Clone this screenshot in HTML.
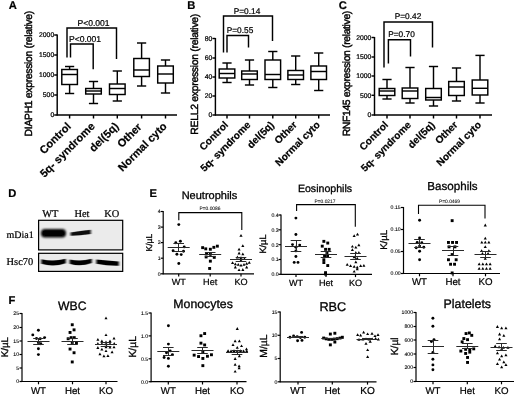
<!DOCTYPE html>
<html><head><meta charset="utf-8"><title>Figure</title>
<style>
html,body{margin:0;padding:0;background:#fff;}
svg{display:block;}
text{fill:#000;text-rendering:geometricPrecision;stroke:#000;stroke-width:0.22px;}
</style></head><body>
<svg width="520" height="396" viewBox="0 0 520 396">
<defs>
<filter id="b1" x="-20%" y="-100%" width="140%" height="300%"><feGaussianBlur stdDeviation="1.1 0.9"/></filter>
<filter id="b2" x="-20%" y="-100%" width="140%" height="300%"><feGaussianBlur stdDeviation="0.9 0.7"/></filter>
<filter id="soft" x="0" y="0" width="100%" height="100%"><feGaussianBlur stdDeviation="0.5"/></filter>
</defs>
<rect width="520" height="396" fill="#fff"/>
<g filter="url(#soft)">

<text x="8.7" y="9.4" font-size="11.2" text-anchor="start" font-weight="bold" font-family='"Liberation Sans", sans-serif'>A</text>
<line x1="57.2" y1="34.5" x2="57.2" y2="115.5" stroke="#000" stroke-width="1.45"/>
<line x1="56.7" y1="115" x2="177" y2="115" stroke="#000" stroke-width="1.45"/>
<line x1="54.2" y1="35" x2="57.2" y2="35" stroke="#000" stroke-width="1.45"/>
<text x="54.2" y="37.35" font-size="6.8" text-anchor="end" font-weight="normal" font-family='"Liberation Sans", sans-serif'>2000</text>
<line x1="54.2" y1="55" x2="57.2" y2="55" stroke="#000" stroke-width="1.45"/>
<text x="54.2" y="57.35" font-size="6.8" text-anchor="end" font-weight="normal" font-family='"Liberation Sans", sans-serif'>1500</text>
<line x1="54.2" y1="75" x2="57.2" y2="75" stroke="#000" stroke-width="1.45"/>
<text x="54.2" y="77.35" font-size="6.8" text-anchor="end" font-weight="normal" font-family='"Liberation Sans", sans-serif'>1000</text>
<line x1="54.2" y1="95" x2="57.2" y2="95" stroke="#000" stroke-width="1.45"/>
<text x="54.2" y="97.35" font-size="6.8" text-anchor="end" font-weight="normal" font-family='"Liberation Sans", sans-serif'>500</text>
<line x1="54.2" y1="115" x2="57.2" y2="115" stroke="#000" stroke-width="1.45"/>
<text x="54.2" y="117.35" font-size="6.8" text-anchor="end" font-weight="normal" font-family='"Liberation Sans", sans-serif'>0</text>
<text x="32.3" y="73.6" font-size="10.4" text-anchor="middle" font-weight="normal" font-family='"Liberation Sans", sans-serif' transform="rotate(-90 32.3 73.6)" textLength="125.6" lengthAdjust="spacing" style="stroke-width:0.45px">DIAPH1 expression (relative)</text>
<line x1="69.6" y1="66.5" x2="69.6" y2="69.5" stroke="#000" stroke-width="1.45"/>
<line x1="69.6" y1="84.5" x2="69.6" y2="93.5" stroke="#000" stroke-width="1.45"/>
<line x1="65.0" y1="66.5" x2="74.19999999999999" y2="66.5" stroke="#000" stroke-width="1.45"/>
<line x1="65.0" y1="93.5" x2="74.19999999999999" y2="93.5" stroke="#000" stroke-width="1.45"/>
<rect x="61.8" y="69.5" width="15.6" height="15.0" fill="#fff" stroke="#000" stroke-width="1.45"/>
<line x1="61.8" y1="74.5" x2="77.39999999999999" y2="74.5" stroke="#000" stroke-width="1.45"/>
<line x1="93.5" y1="81.5" x2="93.5" y2="88.5" stroke="#000" stroke-width="1.45"/>
<line x1="93.5" y1="94" x2="93.5" y2="103.5" stroke="#000" stroke-width="1.45"/>
<line x1="88.9" y1="81.5" x2="98.1" y2="81.5" stroke="#000" stroke-width="1.45"/>
<line x1="88.9" y1="103.5" x2="98.1" y2="103.5" stroke="#000" stroke-width="1.45"/>
<rect x="85.7" y="88.5" width="15.6" height="5.5" fill="#fff" stroke="#000" stroke-width="1.45"/>
<line x1="85.7" y1="91" x2="101.3" y2="91" stroke="#000" stroke-width="1.45"/>
<line x1="117.3" y1="71" x2="117.3" y2="84" stroke="#000" stroke-width="1.45"/>
<line x1="117.3" y1="94.5" x2="117.3" y2="101" stroke="#000" stroke-width="1.45"/>
<line x1="112.7" y1="71" x2="121.89999999999999" y2="71" stroke="#000" stroke-width="1.45"/>
<line x1="112.7" y1="101" x2="121.89999999999999" y2="101" stroke="#000" stroke-width="1.45"/>
<rect x="109.5" y="84" width="15.6" height="10.5" fill="#fff" stroke="#000" stroke-width="1.45"/>
<line x1="109.5" y1="88.5" x2="125.1" y2="88.5" stroke="#000" stroke-width="1.45"/>
<line x1="141.6" y1="43" x2="141.6" y2="58.5" stroke="#000" stroke-width="1.45"/>
<line x1="141.6" y1="76.5" x2="141.6" y2="86" stroke="#000" stroke-width="1.45"/>
<line x1="137.0" y1="43" x2="146.2" y2="43" stroke="#000" stroke-width="1.45"/>
<line x1="137.0" y1="86" x2="146.2" y2="86" stroke="#000" stroke-width="1.45"/>
<rect x="133.79999999999998" y="58.5" width="15.6" height="18.0" fill="#fff" stroke="#000" stroke-width="1.45"/>
<line x1="133.79999999999998" y1="70" x2="149.4" y2="70" stroke="#000" stroke-width="1.45"/>
<line x1="165.5" y1="60" x2="165.5" y2="66" stroke="#000" stroke-width="1.45"/>
<line x1="165.5" y1="83" x2="165.5" y2="93" stroke="#000" stroke-width="1.45"/>
<line x1="160.9" y1="60" x2="170.1" y2="60" stroke="#000" stroke-width="1.45"/>
<line x1="160.9" y1="93" x2="170.1" y2="93" stroke="#000" stroke-width="1.45"/>
<rect x="157.7" y="66" width="15.6" height="17" fill="#fff" stroke="#000" stroke-width="1.45"/>
<line x1="157.7" y1="74" x2="173.3" y2="74" stroke="#000" stroke-width="1.45"/>
<line x1="69.6" y1="115" x2="69.6" y2="118.5" stroke="#000" stroke-width="1.45"/>
<line x1="93.5" y1="115" x2="93.5" y2="118.5" stroke="#000" stroke-width="1.45"/>
<line x1="117.3" y1="115" x2="117.3" y2="118.5" stroke="#000" stroke-width="1.45"/>
<line x1="141.6" y1="115" x2="141.6" y2="118.5" stroke="#000" stroke-width="1.45"/>
<line x1="165.5" y1="115" x2="165.5" y2="118.5" stroke="#000" stroke-width="1.45"/>
<polyline points="67,57.5 67,28 116.5,28 116.5,59" fill="none" stroke="#000" stroke-width="1.45"/>
<text x="93.5" y="25.6" font-size="8.55" text-anchor="middle" font-weight="normal" font-family='"Liberation Sans", sans-serif'>P&lt;0.001</text>
<polyline points="70.5,57.5 70.5,44 93.2,44 93.2,69.3" fill="none" stroke="#000" stroke-width="1.45"/>
<text x="85" y="41.6" font-size="8.55" text-anchor="middle" font-weight="normal" font-family='"Liberation Sans", sans-serif'>P&lt;0.001</text>
<text x="71.6" y="127" font-size="11.0" text-anchor="end" font-weight="bold" font-family='"Liberation Sans", sans-serif' transform="rotate(-45 71.6 127)">Control</text>
<text x="95.5" y="127" font-size="11.0" text-anchor="end" font-weight="bold" font-family='"Liberation Sans", sans-serif' transform="rotate(-45 95.5 127)">5q- syndrome</text>
<text x="119.3" y="127" font-size="11.0" text-anchor="end" font-weight="bold" font-family='"Liberation Sans", sans-serif' transform="rotate(-45 119.3 127)">del(5q)</text>
<text x="142.4" y="127.6" font-size="11.0" text-anchor="end" font-weight="bold" font-family='"Liberation Sans", sans-serif' transform="rotate(-45 142.4 127.6)">Other</text>
<text x="167.5" y="127" font-size="11.0" text-anchor="end" font-weight="bold" font-family='"Liberation Sans", sans-serif' transform="rotate(-45 167.5 127)">Normal cyto</text>
<text x="187.2" y="9.4" font-size="11.2" text-anchor="start" font-weight="bold" font-family='"Liberation Sans", sans-serif'>B</text>
<line x1="215.4" y1="38.0" x2="215.4" y2="115.5" stroke="#000" stroke-width="1.45"/>
<line x1="214.9" y1="115" x2="330" y2="115" stroke="#000" stroke-width="1.45"/>
<line x1="212.4" y1="38.5" x2="215.4" y2="38.5" stroke="#000" stroke-width="1.45"/>
<text x="212.3" y="40.85" font-size="6.8" text-anchor="end" font-weight="normal" font-family='"Liberation Sans", sans-serif'>80</text>
<line x1="212.4" y1="58" x2="215.4" y2="58" stroke="#000" stroke-width="1.45"/>
<text x="212.3" y="60.35" font-size="6.8" text-anchor="end" font-weight="normal" font-family='"Liberation Sans", sans-serif'>60</text>
<line x1="212.4" y1="77" x2="215.4" y2="77" stroke="#000" stroke-width="1.45"/>
<text x="212.3" y="79.35" font-size="6.8" text-anchor="end" font-weight="normal" font-family='"Liberation Sans", sans-serif'>40</text>
<line x1="212.4" y1="96" x2="215.4" y2="96" stroke="#000" stroke-width="1.45"/>
<text x="212.3" y="98.35" font-size="6.8" text-anchor="end" font-weight="normal" font-family='"Liberation Sans", sans-serif'>20</text>
<line x1="212.4" y1="115" x2="215.4" y2="115" stroke="#000" stroke-width="1.45"/>
<text x="212.3" y="117.35" font-size="6.8" text-anchor="end" font-weight="normal" font-family='"Liberation Sans", sans-serif'>0</text>
<text x="197.6" y="74.2" font-size="10.4" text-anchor="middle" font-weight="normal" font-family='"Liberation Sans", sans-serif' transform="rotate(-90 197.6 74.2)" textLength="121" lengthAdjust="spacing" style="stroke-width:0.45px">RELL2  expression (relative)</text>
<line x1="227" y1="63" x2="227" y2="69" stroke="#000" stroke-width="1.45"/>
<line x1="227" y1="78" x2="227" y2="82.5" stroke="#000" stroke-width="1.45"/>
<line x1="222.4" y1="63" x2="231.6" y2="63" stroke="#000" stroke-width="1.45"/>
<line x1="222.4" y1="82.5" x2="231.6" y2="82.5" stroke="#000" stroke-width="1.45"/>
<rect x="219.2" y="69" width="15.6" height="9" fill="#fff" stroke="#000" stroke-width="1.45"/>
<line x1="219.2" y1="73.5" x2="234.8" y2="73.5" stroke="#000" stroke-width="1.45"/>
<line x1="249.5" y1="60" x2="249.5" y2="71" stroke="#000" stroke-width="1.45"/>
<line x1="249.5" y1="79.5" x2="249.5" y2="85" stroke="#000" stroke-width="1.45"/>
<line x1="244.9" y1="60" x2="254.1" y2="60" stroke="#000" stroke-width="1.45"/>
<line x1="244.9" y1="85" x2="254.1" y2="85" stroke="#000" stroke-width="1.45"/>
<rect x="241.7" y="71" width="15.6" height="8.5" fill="#fff" stroke="#000" stroke-width="1.45"/>
<line x1="241.7" y1="74" x2="257.3" y2="74" stroke="#000" stroke-width="1.45"/>
<line x1="272.8" y1="51.5" x2="272.8" y2="60" stroke="#000" stroke-width="1.45"/>
<line x1="272.8" y1="79.5" x2="272.8" y2="87.5" stroke="#000" stroke-width="1.45"/>
<line x1="268.2" y1="51.5" x2="277.40000000000003" y2="51.5" stroke="#000" stroke-width="1.45"/>
<line x1="268.2" y1="87.5" x2="277.40000000000003" y2="87.5" stroke="#000" stroke-width="1.45"/>
<rect x="265.0" y="60" width="15.6" height="19.5" fill="#fff" stroke="#000" stroke-width="1.45"/>
<line x1="265.0" y1="74.5" x2="280.6" y2="74.5" stroke="#000" stroke-width="1.45"/>
<line x1="295.7" y1="56" x2="295.7" y2="70.5" stroke="#000" stroke-width="1.45"/>
<line x1="295.7" y1="79.5" x2="295.7" y2="84.5" stroke="#000" stroke-width="1.45"/>
<line x1="291.09999999999997" y1="56" x2="300.3" y2="56" stroke="#000" stroke-width="1.45"/>
<line x1="291.09999999999997" y1="84.5" x2="300.3" y2="84.5" stroke="#000" stroke-width="1.45"/>
<rect x="287.9" y="70.5" width="15.6" height="9.0" fill="#fff" stroke="#000" stroke-width="1.45"/>
<line x1="287.9" y1="75" x2="303.5" y2="75" stroke="#000" stroke-width="1.45"/>
<line x1="318.7" y1="53" x2="318.7" y2="66" stroke="#000" stroke-width="1.45"/>
<line x1="318.7" y1="79.5" x2="318.7" y2="90.5" stroke="#000" stroke-width="1.45"/>
<line x1="314.09999999999997" y1="53" x2="323.3" y2="53" stroke="#000" stroke-width="1.45"/>
<line x1="314.09999999999997" y1="90.5" x2="323.3" y2="90.5" stroke="#000" stroke-width="1.45"/>
<rect x="310.9" y="66" width="15.6" height="13.5" fill="#fff" stroke="#000" stroke-width="1.45"/>
<line x1="310.9" y1="71.5" x2="326.5" y2="71.5" stroke="#000" stroke-width="1.45"/>
<line x1="227" y1="115" x2="227" y2="118.5" stroke="#000" stroke-width="1.45"/>
<line x1="249.5" y1="115" x2="249.5" y2="118.5" stroke="#000" stroke-width="1.45"/>
<line x1="272.8" y1="115" x2="272.8" y2="118.5" stroke="#000" stroke-width="1.45"/>
<line x1="295.7" y1="115" x2="295.7" y2="118.5" stroke="#000" stroke-width="1.45"/>
<line x1="318.7" y1="115" x2="318.7" y2="118.5" stroke="#000" stroke-width="1.45"/>
<polyline points="223.5,52.5 223.5,16 272.5,16 272.5,41" fill="none" stroke="#000" stroke-width="1.45"/>
<text x="247" y="13.5" font-size="8.3" text-anchor="middle" font-weight="normal" font-family='"Liberation Sans", sans-serif'>P=0.14</text>
<polyline points="227,52.5 227,35.5 248.5,35.5 248.5,47.5" fill="none" stroke="#000" stroke-width="1.45"/>
<text x="240" y="32.5" font-size="8.3" text-anchor="middle" font-weight="normal" font-family='"Liberation Sans", sans-serif'>P=0.55</text>
<text x="228.8" y="125.5" font-size="10.1" text-anchor="end" font-weight="bold" font-family='"Liberation Sans", sans-serif' transform="rotate(-45 228.8 125.5)">Control</text>
<text x="251.3" y="125.5" font-size="10.1" text-anchor="end" font-weight="bold" font-family='"Liberation Sans", sans-serif' transform="rotate(-45 251.3 125.5)">5q- syndrome</text>
<text x="274.6" y="125.5" font-size="10.1" text-anchor="end" font-weight="bold" font-family='"Liberation Sans", sans-serif' transform="rotate(-45 274.6 125.5)">del(5q)</text>
<text x="297.5" y="125.5" font-size="10.1" text-anchor="end" font-weight="bold" font-family='"Liberation Sans", sans-serif' transform="rotate(-45 297.5 125.5)">Other</text>
<text x="320.5" y="125.5" font-size="10.1" text-anchor="end" font-weight="bold" font-family='"Liberation Sans", sans-serif' transform="rotate(-45 320.5 125.5)">Normal cyto</text>
<text x="338.7" y="9.4" font-size="11.2" text-anchor="start" font-weight="bold" font-family='"Liberation Sans", sans-serif'>C</text>
<line x1="374.5" y1="37.0" x2="374.5" y2="115.5" stroke="#000" stroke-width="1.45"/>
<line x1="374.0" y1="115" x2="492" y2="115" stroke="#000" stroke-width="1.45"/>
<line x1="371.5" y1="37.5" x2="374.5" y2="37.5" stroke="#000" stroke-width="1.45"/>
<text x="371.4" y="39.85" font-size="6.8" text-anchor="end" font-weight="normal" font-family='"Liberation Sans", sans-serif'>2000</text>
<line x1="371.5" y1="57" x2="374.5" y2="57" stroke="#000" stroke-width="1.45"/>
<text x="371.4" y="59.35" font-size="6.8" text-anchor="end" font-weight="normal" font-family='"Liberation Sans", sans-serif'>1500</text>
<line x1="371.5" y1="76" x2="374.5" y2="76" stroke="#000" stroke-width="1.45"/>
<text x="371.4" y="78.35" font-size="6.8" text-anchor="end" font-weight="normal" font-family='"Liberation Sans", sans-serif'>1000</text>
<line x1="371.5" y1="95.3" x2="374.5" y2="95.3" stroke="#000" stroke-width="1.45"/>
<text x="371.4" y="97.64999999999999" font-size="6.8" text-anchor="end" font-weight="normal" font-family='"Liberation Sans", sans-serif'>500</text>
<line x1="371.5" y1="115" x2="374.5" y2="115" stroke="#000" stroke-width="1.45"/>
<text x="371.4" y="117.35" font-size="6.8" text-anchor="end" font-weight="normal" font-family='"Liberation Sans", sans-serif'>0</text>
<text x="350.2" y="73.5" font-size="10.4" text-anchor="middle" font-weight="normal" font-family='"Liberation Sans", sans-serif' transform="rotate(-90 350.2 73.5)" textLength="125.6" lengthAdjust="spacing" style="stroke-width:0.45px">RNF145 expression (relative)</text>
<line x1="387" y1="79.5" x2="387" y2="88.5" stroke="#000" stroke-width="1.45"/>
<line x1="387" y1="95.5" x2="387" y2="99" stroke="#000" stroke-width="1.45"/>
<line x1="382.4" y1="79.5" x2="391.6" y2="79.5" stroke="#000" stroke-width="1.45"/>
<line x1="382.4" y1="99" x2="391.6" y2="99" stroke="#000" stroke-width="1.45"/>
<rect x="379.2" y="88.5" width="15.6" height="7.0" fill="#fff" stroke="#000" stroke-width="1.45"/>
<line x1="379.2" y1="91" x2="394.8" y2="91" stroke="#000" stroke-width="1.45"/>
<line x1="410" y1="67.5" x2="410" y2="88" stroke="#000" stroke-width="1.45"/>
<line x1="410" y1="98.5" x2="410" y2="103" stroke="#000" stroke-width="1.45"/>
<line x1="405.4" y1="67.5" x2="414.6" y2="67.5" stroke="#000" stroke-width="1.45"/>
<line x1="405.4" y1="103" x2="414.6" y2="103" stroke="#000" stroke-width="1.45"/>
<rect x="402.2" y="88" width="15.6" height="10.5" fill="#fff" stroke="#000" stroke-width="1.45"/>
<line x1="402.2" y1="91" x2="417.8" y2="91" stroke="#000" stroke-width="1.45"/>
<line x1="433.5" y1="66.5" x2="433.5" y2="88.5" stroke="#000" stroke-width="1.45"/>
<line x1="433.5" y1="100" x2="433.5" y2="106" stroke="#000" stroke-width="1.45"/>
<line x1="428.9" y1="66.5" x2="438.1" y2="66.5" stroke="#000" stroke-width="1.45"/>
<line x1="428.9" y1="106" x2="438.1" y2="106" stroke="#000" stroke-width="1.45"/>
<rect x="425.7" y="88.5" width="15.6" height="11.5" fill="#fff" stroke="#000" stroke-width="1.45"/>
<line x1="425.7" y1="97.5" x2="441.3" y2="97.5" stroke="#000" stroke-width="1.45"/>
<line x1="456.5" y1="68" x2="456.5" y2="81.5" stroke="#000" stroke-width="1.45"/>
<line x1="456.5" y1="95.5" x2="456.5" y2="101" stroke="#000" stroke-width="1.45"/>
<line x1="451.9" y1="68" x2="461.1" y2="68" stroke="#000" stroke-width="1.45"/>
<line x1="451.9" y1="101" x2="461.1" y2="101" stroke="#000" stroke-width="1.45"/>
<rect x="448.7" y="81.5" width="15.6" height="14.0" fill="#fff" stroke="#000" stroke-width="1.45"/>
<line x1="448.7" y1="87" x2="464.3" y2="87" stroke="#000" stroke-width="1.45"/>
<line x1="480" y1="55.4" x2="480" y2="80" stroke="#000" stroke-width="1.45"/>
<line x1="480" y1="95" x2="480" y2="103" stroke="#000" stroke-width="1.45"/>
<line x1="475.4" y1="55.4" x2="484.6" y2="55.4" stroke="#000" stroke-width="1.45"/>
<line x1="475.4" y1="103" x2="484.6" y2="103" stroke="#000" stroke-width="1.45"/>
<rect x="472.2" y="80" width="15.6" height="15" fill="#fff" stroke="#000" stroke-width="1.45"/>
<line x1="472.2" y1="88.3" x2="487.8" y2="88.3" stroke="#000" stroke-width="1.45"/>
<line x1="387" y1="115" x2="387" y2="118.5" stroke="#000" stroke-width="1.45"/>
<line x1="410" y1="115" x2="410" y2="118.5" stroke="#000" stroke-width="1.45"/>
<line x1="433.5" y1="115" x2="433.5" y2="118.5" stroke="#000" stroke-width="1.45"/>
<line x1="456.5" y1="115" x2="456.5" y2="118.5" stroke="#000" stroke-width="1.45"/>
<line x1="480" y1="115" x2="480" y2="118.5" stroke="#000" stroke-width="1.45"/>
<polyline points="384,67.5 384,22 432.5,22 432.5,47.5" fill="none" stroke="#000" stroke-width="1.45"/>
<text x="408" y="19" font-size="8.3" text-anchor="middle" font-weight="normal" font-family='"Liberation Sans", sans-serif'>P=0.42</text>
<polyline points="388.4,63.4 388.4,39.8 410.5,39.8 410.5,56.5" fill="none" stroke="#000" stroke-width="1.45"/>
<text x="401.5" y="36.8" font-size="8.3" text-anchor="middle" font-weight="normal" font-family='"Liberation Sans", sans-serif'>P=0.70</text>
<text x="388.8" y="125.5" font-size="10.1" text-anchor="end" font-weight="bold" font-family='"Liberation Sans", sans-serif' transform="rotate(-45 388.8 125.5)">Control</text>
<text x="411.8" y="125.5" font-size="10.1" text-anchor="end" font-weight="bold" font-family='"Liberation Sans", sans-serif' transform="rotate(-45 411.8 125.5)">5q- syndrome</text>
<text x="435.3" y="125.5" font-size="10.1" text-anchor="end" font-weight="bold" font-family='"Liberation Sans", sans-serif' transform="rotate(-45 435.3 125.5)">del(5q)</text>
<text x="458.3" y="125.5" font-size="10.1" text-anchor="end" font-weight="bold" font-family='"Liberation Sans", sans-serif' transform="rotate(-45 458.3 125.5)">Other</text>
<text x="481.8" y="125.5" font-size="10.1" text-anchor="end" font-weight="bold" font-family='"Liberation Sans", sans-serif' transform="rotate(-45 481.8 125.5)">Normal cyto</text>
<text x="8.3" y="197.4" font-size="11.2" text-anchor="start" font-weight="bold" font-family='"Liberation Sans", sans-serif'>D</text>
<text x="50.3" y="217.3" font-size="10.4" text-anchor="middle" font-weight="normal" font-family='"Liberation Serif", serif'>WT</text>
<text x="82" y="217.3" font-size="10.4" text-anchor="middle" font-weight="normal" font-family='"Liberation Serif", serif'>Het</text>
<text x="111.7" y="217.3" font-size="10.4" text-anchor="middle" font-weight="normal" font-family='"Liberation Serif", serif'>KO</text>
<text x="6.6" y="237.6" font-size="10.0" text-anchor="start" font-weight="normal" font-family='"Liberation Serif", serif'>mDia1</text>
<text x="6.6" y="265" font-size="10.4" text-anchor="start" font-weight="normal" font-family='"Liberation Serif", serif'>Hsc70</text>
<rect x="38.6" y="220.3" width="84.1" height="29.6" fill="#ebebeb" stroke="#000" stroke-width="1.2"/>
<rect x="38.6" y="253.3" width="84.1" height="18.1" fill="#ebebeb" stroke="#000" stroke-width="1.2"/>
<rect x="41" y="228.9" width="25" height="8.6" rx="4" fill="#000" filter="url(#b1)"/>
<rect x="43" y="230.4" width="20.5" height="5.2" rx="2.5" fill="#000"/>
<path d="M70.6,232.4 Q80,231.2 90.8,229.8 L90.8,234 Q80,235.4 70.6,235.8 Z" fill="#0a0a0a" filter="url(#b2)"/>
<path d="M41.3,259.2 Q53.5,262 65.8,258.8 L65.8,263.2 Q53.5,267.4 41.3,263.8 Z" fill="#000" filter="url(#b2)"/>
<path d="M69.6,259.4 Q80.5,262 91.8,258.8 L91.8,263 Q80.5,267.2 69.6,263.8 Z" fill="#000" filter="url(#b2)"/>
<path d="M96.3,259.6 Q107,260.8 118.8,261.4 L118.8,265.8 Q107,266 96.3,263.8 Z" fill="#000" filter="url(#b2)"/>
<text x="149.6" y="197.1" font-size="11.2" text-anchor="start" font-weight="bold" font-family='"Liberation Sans", sans-serif'>E</text>
<text x="209.5" y="199" font-size="11" text-anchor="middle" font-weight="normal" font-family='"Liberation Sans", sans-serif' style="stroke-width:0.3px">Neutrophils</text>
<line x1="163.2" y1="211.0" x2="163.2" y2="274.3" stroke="#000" stroke-width="1.2"/>
<line x1="162.7" y1="273.8" x2="254" y2="273.8" stroke="#000" stroke-width="1.2"/>
<line x1="160.7" y1="211.5" x2="163.2" y2="211.5" stroke="#000" stroke-width="1.2"/>
<text x="160.6" y="213.3" font-size="5.2" text-anchor="end" font-weight="normal" font-family='"Liberation Sans", sans-serif' style="stroke-width:0.1px">4</text>
<line x1="160.7" y1="227.1" x2="163.2" y2="227.1" stroke="#000" stroke-width="1.2"/>
<text x="160.6" y="228.9" font-size="5.2" text-anchor="end" font-weight="normal" font-family='"Liberation Sans", sans-serif' style="stroke-width:0.1px">3</text>
<line x1="160.7" y1="242.6" x2="163.2" y2="242.6" stroke="#000" stroke-width="1.2"/>
<text x="160.6" y="244.4" font-size="5.2" text-anchor="end" font-weight="normal" font-family='"Liberation Sans", sans-serif' style="stroke-width:0.1px">2</text>
<line x1="160.7" y1="258.2" x2="163.2" y2="258.2" stroke="#000" stroke-width="1.2"/>
<text x="160.6" y="260.0" font-size="5.2" text-anchor="end" font-weight="normal" font-family='"Liberation Sans", sans-serif' style="stroke-width:0.1px">1</text>
<line x1="160.7" y1="273.8" x2="163.2" y2="273.8" stroke="#000" stroke-width="1.2"/>
<text x="160.6" y="275.6" font-size="5.2" text-anchor="end" font-weight="normal" font-family='"Liberation Sans", sans-serif' style="stroke-width:0.1px">0</text>
<text x="152.0" y="242.6" font-size="8.5" text-anchor="middle" font-weight="normal" font-family='"Liberation Sans", sans-serif' transform="rotate(-90 152.0 242.6)" style="stroke-width:0.3px">K/µL</text>
<line x1="178.7" y1="273.8" x2="178.7" y2="276.6" stroke="#000" stroke-width="1.2"/>
<text x="178.7" y="285" font-size="9.1" text-anchor="middle" font-weight="normal" font-family='"Liberation Sans", sans-serif'>WT</text>
<circle cx="178.8" cy="224.6" r="1.45"/>
<circle cx="175.8" cy="242.7" r="1.45"/>
<circle cx="180.4" cy="241.2" r="1.45"/>
<circle cx="184.2" cy="246.9" r="1.45"/>
<circle cx="173.1" cy="250.8" r="1.45"/>
<circle cx="176.9" cy="254.2" r="1.45"/>
<circle cx="181.2" cy="254.6" r="1.45"/>
<circle cx="183.5" cy="251.2" r="1.45"/>
<circle cx="178.8" cy="263.5" r="1.45"/>
<line x1="210.2" y1="273.8" x2="210.2" y2="276.6" stroke="#000" stroke-width="1.2"/>
<text x="210.2" y="285" font-size="9.1" text-anchor="middle" font-weight="normal" font-family='"Liberation Sans", sans-serif'>Het</text>
<rect x="201.2" y="246.2" width="2.9" height="2.9"/>
<rect x="204.3" y="247.4" width="2.9" height="2.9"/>
<rect x="208.9" y="247.8" width="2.9" height="2.9"/>
<rect x="212.4" y="245.9" width="2.9" height="2.9"/>
<rect x="215.9" y="244.7" width="2.9" height="2.9"/>
<rect x="205.1" y="252.0" width="2.9" height="2.9"/>
<rect x="208.9" y="252.8" width="2.9" height="2.9"/>
<rect x="204.7" y="255.5" width="2.9" height="2.9"/>
<rect x="212.8" y="255.9" width="2.9" height="2.9"/>
<rect x="208.9" y="259.7" width="2.9" height="2.9"/>
<rect x="208.2" y="267.0" width="2.9" height="2.9"/>
<line x1="241" y1="273.8" x2="241" y2="276.6" stroke="#000" stroke-width="1.2"/>
<text x="241" y="285" font-size="9.1" text-anchor="middle" font-weight="normal" font-family='"Liberation Sans", sans-serif'>KO</text>
<polygon points="241.0,234.0 239.4,236.8 242.6,236.8"/>
<polygon points="242.8,244.3 241.3,247.0 244.4,247.0"/>
<polygon points="239.1,247.7 237.5,250.4 240.6,250.4"/>
<polygon points="239.1,251.6 237.5,254.4 240.6,254.4"/>
<polygon points="242.8,252.4 241.3,255.2 244.4,255.2"/>
<polygon points="237.4,255.6 235.8,258.4 238.9,258.4"/>
<polygon points="241.0,256.2 239.4,258.9 242.6,258.9"/>
<polygon points="244.4,257.3 242.9,260.1 246.0,260.1"/>
<polygon points="241.0,258.7 239.4,261.4 242.6,261.4"/>
<polygon points="232.6,261.3 231.0,264.1 234.1,264.1"/>
<polygon points="249.3,261.1 247.7,263.8 250.8,263.8"/>
<polygon points="235.3,262.4 233.8,265.2 236.9,265.2"/>
<polygon points="238.3,263.0 236.7,265.8 239.8,265.8"/>
<polygon points="241.0,263.8 239.4,266.6 242.6,266.6"/>
<polygon points="244.0,263.0 242.4,265.8 245.5,265.8"/>
<polygon points="246.7,262.0 245.1,264.7 248.2,264.7"/>
<polygon points="235.3,265.6 233.8,268.4 236.9,268.4"/>
<polygon points="246.7,265.6 245.1,268.4 248.2,268.4"/>
<polygon points="239.1,268.4 237.5,271.1 240.6,271.1"/>
<polygon points="242.8,268.1 241.3,270.9 244.4,270.9"/>
<polyline points="178.8,220.3 178.8,212.6 241.8,212.6 241.8,230" fill="none" stroke="#000" stroke-width="1.1"/>
<text x="210" y="209.5" font-size="4.9" text-anchor="middle" font-weight="normal" font-family='"Liberation Sans", sans-serif' style="stroke-width:0.06px">P=0.0086</text>
<text x="325" y="192" font-size="10.6" text-anchor="middle" font-weight="normal" font-family='"Liberation Sans", sans-serif' style="stroke-width:0.3px">Eosinophils</text>
<line x1="281" y1="214.5" x2="281" y2="274.8" stroke="#000" stroke-width="1.2"/>
<line x1="280.5" y1="274.3" x2="372" y2="274.3" stroke="#000" stroke-width="1.2"/>
<line x1="278.5" y1="215" x2="281" y2="215" stroke="#000" stroke-width="1.2"/>
<text x="278.6" y="216.8" font-size="5.2" text-anchor="end" font-weight="normal" font-family='"Liberation Sans", sans-serif' style="stroke-width:0.1px">0.4</text>
<line x1="278.5" y1="229.8" x2="281" y2="229.8" stroke="#000" stroke-width="1.2"/>
<text x="278.6" y="231.60000000000002" font-size="5.2" text-anchor="end" font-weight="normal" font-family='"Liberation Sans", sans-serif' style="stroke-width:0.1px">0.3</text>
<line x1="278.5" y1="244.7" x2="281" y2="244.7" stroke="#000" stroke-width="1.2"/>
<text x="278.6" y="246.5" font-size="5.2" text-anchor="end" font-weight="normal" font-family='"Liberation Sans", sans-serif' style="stroke-width:0.1px">0.2</text>
<line x1="278.5" y1="259.5" x2="281" y2="259.5" stroke="#000" stroke-width="1.2"/>
<text x="278.6" y="261.3" font-size="5.2" text-anchor="end" font-weight="normal" font-family='"Liberation Sans", sans-serif' style="stroke-width:0.1px">0.1</text>
<line x1="278.5" y1="274.3" x2="281" y2="274.3" stroke="#000" stroke-width="1.2"/>
<text x="278.6" y="276.1" font-size="5.2" text-anchor="end" font-weight="normal" font-family='"Liberation Sans", sans-serif' style="stroke-width:0.1px">0.0</text>
<text x="266.4" y="244" font-size="9.2" text-anchor="middle" font-weight="normal" font-family='"Liberation Sans", sans-serif' transform="rotate(-90 266.4 244)" style="stroke-width:0.3px">K/µL</text>
<line x1="296" y1="274.3" x2="296" y2="277.1" stroke="#000" stroke-width="1.2"/>
<text x="296" y="285.6" font-size="9.1" text-anchor="middle" font-weight="normal" font-family='"Liberation Sans", sans-serif'>WT</text>
<circle cx="295.9" cy="218.1" r="1.45"/>
<circle cx="295.9" cy="234.5" r="1.45"/>
<circle cx="292.5" cy="244.6" r="1.45"/>
<circle cx="299.7" cy="245.1" r="1.45"/>
<circle cx="295.9" cy="247.3" r="1.45"/>
<circle cx="295.9" cy="250.9" r="1.45"/>
<circle cx="295.9" cy="256.5" r="1.45"/>
<circle cx="294.2" cy="262.4" r="1.45"/>
<circle cx="298.0" cy="262.4" r="1.45"/>
<line x1="326" y1="274.3" x2="326" y2="277.1" stroke="#000" stroke-width="1.2"/>
<text x="326" y="285.6" font-size="9.1" text-anchor="middle" font-weight="normal" font-family='"Liberation Sans", sans-serif'>Het</text>
<rect x="322.4" y="239.9" width="2.9" height="2.9"/>
<rect x="326.3" y="241.6" width="2.9" height="2.9"/>
<rect x="320.8" y="244.7" width="2.9" height="2.9"/>
<rect x="324.1" y="247.9" width="2.9" height="2.9"/>
<rect x="327.7" y="247.9" width="2.9" height="2.9"/>
<rect x="325.5" y="251.3" width="2.9" height="2.9"/>
<rect x="323.1" y="254.4" width="2.9" height="2.9"/>
<rect x="326.1" y="254.9" width="2.9" height="2.9"/>
<rect x="322.4" y="258.3" width="2.9" height="2.9"/>
<rect x="322.4" y="261.1" width="2.9" height="2.9"/>
<rect x="326.3" y="264.1" width="2.9" height="2.9"/>
<rect x="324.1" y="271.2" width="2.9" height="2.9"/>
<rect x="324.1" y="272.6" width="2.9" height="2.9"/>
<line x1="355.5" y1="274.3" x2="355.5" y2="277.1" stroke="#000" stroke-width="1.2"/>
<text x="355.5" y="285.6" font-size="9.1" text-anchor="middle" font-weight="normal" font-family='"Liberation Sans", sans-serif'>KO</text>
<polygon points="354.2,234.2 352.6,236.9 355.7,236.9"/>
<polygon points="357.5,232.8 355.9,235.5 359.1,235.5"/>
<polygon points="352.4,244.9 350.8,247.6 353.9,247.6"/>
<polygon points="355.8,245.8 354.3,248.6 357.4,248.6"/>
<polygon points="358.9,243.5 357.3,246.2 360.4,246.2"/>
<polygon points="352.4,248.3 350.8,251.1 353.9,251.1"/>
<polygon points="355.8,251.1 354.3,253.9 357.4,253.9"/>
<polygon points="358.9,251.1 357.3,253.9 360.4,253.9"/>
<polygon points="354.2,255.6 352.6,258.3 355.7,258.3"/>
<polygon points="357.2,256.7 355.7,259.4 358.8,259.4"/>
<polygon points="355.8,260.6 354.3,263.3 357.4,263.3"/>
<polygon points="347.2,262.9 345.7,265.7 348.8,265.7"/>
<polygon points="350.6,264.3 349.0,267.1 352.1,267.1"/>
<polygon points="354.2,265.0 352.6,267.8 355.7,267.8"/>
<polygon points="357.2,265.7 355.7,268.5 358.8,268.5"/>
<polygon points="360.7,264.3 359.1,267.1 362.2,267.1"/>
<polygon points="363.9,263.9 362.3,266.7 365.4,266.7"/>
<polygon points="357.2,267.5 355.7,270.3 358.8,270.3"/>
<polygon points="354.2,269.9 352.6,272.6 355.7,272.6"/>
<polyline points="296.6,211 296.6,204.6 355.3,204.6 355.3,226.8" fill="none" stroke="#000" stroke-width="1.1"/>
<text x="325" y="202.6" font-size="4.9" text-anchor="middle" font-weight="normal" font-family='"Liberation Sans", sans-serif' style="stroke-width:0.06px">P=0.0217</text>
<text x="452.5" y="190.4" font-size="11.6" text-anchor="middle" font-weight="normal" font-family='"Liberation Sans", sans-serif' style="stroke-width:0.3px">Basophils</text>
<line x1="403.5" y1="207.0" x2="403.5" y2="274.0" stroke="#000" stroke-width="1.2"/>
<line x1="403.0" y1="273.5" x2="500" y2="273.5" stroke="#000" stroke-width="1.2"/>
<line x1="401.0" y1="207.5" x2="403.5" y2="207.5" stroke="#000" stroke-width="1.2"/>
<text x="400.7" y="209.3" font-size="5.2" text-anchor="end" font-weight="normal" font-family='"Liberation Sans", sans-serif' style="stroke-width:0.1px">0.15</text>
<line x1="401.0" y1="229.5" x2="403.5" y2="229.5" stroke="#000" stroke-width="1.2"/>
<text x="400.7" y="231.3" font-size="5.2" text-anchor="end" font-weight="normal" font-family='"Liberation Sans", sans-serif' style="stroke-width:0.1px">0.10</text>
<line x1="401.0" y1="251.5" x2="403.5" y2="251.5" stroke="#000" stroke-width="1.2"/>
<text x="400.7" y="253.3" font-size="5.2" text-anchor="end" font-weight="normal" font-family='"Liberation Sans", sans-serif' style="stroke-width:0.1px">0.05</text>
<line x1="401.0" y1="273.5" x2="403.5" y2="273.5" stroke="#000" stroke-width="1.2"/>
<text x="400.7" y="275.3" font-size="5.2" text-anchor="end" font-weight="normal" font-family='"Liberation Sans", sans-serif' style="stroke-width:0.1px">0.00</text>
<text x="387.3" y="239.9" font-size="9.6" text-anchor="middle" font-weight="normal" font-family='"Liberation Sans", sans-serif' transform="rotate(-90 387.3 239.9)" style="stroke-width:0.3px">K/µL</text>
<line x1="419.5" y1="273.5" x2="419.5" y2="276.3" stroke="#000" stroke-width="1.2"/>
<text x="419.5" y="285" font-size="9.7" text-anchor="middle" font-weight="normal" font-family='"Liberation Sans", sans-serif'>WT</text>
<circle cx="419.6" cy="220.2" r="1.45"/>
<circle cx="419.6" cy="238.0" r="1.45"/>
<circle cx="417.2" cy="242.4" r="1.45"/>
<circle cx="421.8" cy="242.8" r="1.45"/>
<circle cx="419.6" cy="246.1" r="1.45"/>
<circle cx="416.2" cy="247.7" r="1.45"/>
<circle cx="423.8" cy="247.3" r="1.45"/>
<circle cx="419.6" cy="251.3" r="1.45"/>
<circle cx="419.6" cy="259.8" r="1.45"/>
<line x1="453" y1="273.5" x2="453" y2="276.3" stroke="#000" stroke-width="1.2"/>
<text x="453" y="285" font-size="9.7" text-anchor="middle" font-weight="normal" font-family='"Liberation Sans", sans-serif'>Het</text>
<rect x="450.7" y="219.2" width="2.9" height="2.9"/>
<rect x="447.0" y="241.0" width="2.9" height="2.9"/>
<rect x="451.1" y="241.0" width="2.9" height="2.9"/>
<rect x="455.1" y="241.0" width="2.9" height="2.9"/>
<rect x="447.6" y="245.4" width="2.9" height="2.9"/>
<rect x="453.5" y="245.4" width="2.9" height="2.9"/>
<rect x="450.7" y="253.1" width="2.9" height="2.9"/>
<rect x="447.0" y="258.3" width="2.9" height="2.9"/>
<rect x="454.7" y="258.3" width="2.9" height="2.9"/>
<rect x="449.1" y="262.8" width="2.9" height="2.9"/>
<rect x="453.1" y="262.8" width="2.9" height="2.9"/>
<rect x="450.7" y="271.5" width="2.9" height="2.9"/>
<line x1="485.5" y1="273.5" x2="485.5" y2="276.3" stroke="#000" stroke-width="1.2"/>
<text x="485.5" y="285" font-size="9.7" text-anchor="middle" font-weight="normal" font-family='"Liberation Sans", sans-serif'>KO</text>
<polygon points="485.3,223.6 483.7,226.4 486.8,226.4"/>
<polygon points="485.3,236.7 483.7,239.5 486.8,239.5"/>
<polygon points="481.8,240.8 480.3,243.5 483.4,243.5"/>
<polygon points="485.3,240.8 483.7,243.5 486.8,243.5"/>
<polygon points="488.9,240.8 487.3,243.5 490.4,243.5"/>
<polygon points="485.3,245.2 483.7,248.0 486.8,248.0"/>
<polygon points="481.6,249.3 480.1,252.0 483.2,252.0"/>
<polygon points="488.9,249.3 487.3,252.0 490.4,252.0"/>
<polygon points="482.4,252.1 480.9,254.8 484.0,254.8"/>
<polygon points="488.1,252.1 486.5,254.8 489.6,254.8"/>
<polygon points="485.3,256.9 483.7,259.7 486.8,259.7"/>
<polygon points="479.2,262.6 477.6,265.3 480.7,265.3"/>
<polygon points="482.8,262.6 481.3,265.3 484.4,265.3"/>
<polygon points="486.5,262.6 484.9,265.3 488.0,265.3"/>
<polygon points="490.1,262.6 488.6,265.3 491.7,265.3"/>
<polygon points="479.2,267.0 477.6,269.8 480.7,269.8"/>
<polygon points="482.8,267.0 481.3,269.8 484.4,269.8"/>
<polygon points="486.5,267.0 484.9,269.8 488.0,269.8"/>
<polygon points="490.1,267.0 488.6,269.8 491.7,269.8"/>
<polyline points="418.5,214 418.5,205.3 485,205.3 485,218.5" fill="none" stroke="#000" stroke-width="1.1"/>
<text x="449.5" y="203" font-size="4.9" text-anchor="middle" font-weight="normal" font-family='"Liberation Sans", sans-serif' style="stroke-width:0.06px">P=0.0469</text>
<text x="8.4" y="304" font-size="11.2" text-anchor="start" font-weight="bold" font-family='"Liberation Sans", sans-serif'>F</text>
<text x="72.3" y="310.4" font-size="12.2" text-anchor="middle" font-weight="normal" font-family='"Liberation Sans", sans-serif' style="stroke-width:0.3px">WBC</text>
<line x1="22" y1="313.0" x2="22" y2="382.0" stroke="#000" stroke-width="1.2"/>
<line x1="21.5" y1="381.5" x2="117.5" y2="381.5" stroke="#000" stroke-width="1.2"/>
<line x1="19.5" y1="313.5" x2="22" y2="313.5" stroke="#000" stroke-width="1.2"/>
<text x="19.1" y="315.3" font-size="5.2" text-anchor="end" font-weight="normal" font-family='"Liberation Sans", sans-serif' style="stroke-width:0.1px">25</text>
<line x1="19.5" y1="327.5" x2="22" y2="327.5" stroke="#000" stroke-width="1.2"/>
<text x="19.1" y="329.3" font-size="5.2" text-anchor="end" font-weight="normal" font-family='"Liberation Sans", sans-serif' style="stroke-width:0.1px">20</text>
<line x1="19.5" y1="341" x2="22" y2="341" stroke="#000" stroke-width="1.2"/>
<text x="19.1" y="342.8" font-size="5.2" text-anchor="end" font-weight="normal" font-family='"Liberation Sans", sans-serif' style="stroke-width:0.1px">15</text>
<line x1="19.5" y1="354.5" x2="22" y2="354.5" stroke="#000" stroke-width="1.2"/>
<text x="19.1" y="356.3" font-size="5.2" text-anchor="end" font-weight="normal" font-family='"Liberation Sans", sans-serif' style="stroke-width:0.1px">10</text>
<line x1="19.5" y1="368" x2="22" y2="368" stroke="#000" stroke-width="1.2"/>
<text x="19.1" y="369.8" font-size="5.2" text-anchor="end" font-weight="normal" font-family='"Liberation Sans", sans-serif' style="stroke-width:0.1px">5</text>
<line x1="19.5" y1="381.5" x2="22" y2="381.5" stroke="#000" stroke-width="1.2"/>
<text x="19.1" y="383.3" font-size="5.2" text-anchor="end" font-weight="normal" font-family='"Liberation Sans", sans-serif' style="stroke-width:0.1px">0</text>
<text x="8.4" y="347.1" font-size="9.7" text-anchor="middle" font-weight="normal" font-family='"Liberation Sans", sans-serif' transform="rotate(-90 8.4 347.1)" style="stroke-width:0.3px">K/µL</text>
<line x1="38.5" y1="381.5" x2="38.5" y2="384.3" stroke="#000" stroke-width="1.2"/>
<text x="38.5" y="393.5" font-size="9.7" text-anchor="middle" font-weight="normal" font-family='"Liberation Sans", sans-serif'>WT</text>
<circle cx="38.4" cy="330.3" r="1.45"/>
<circle cx="32.8" cy="334.9" r="1.45"/>
<circle cx="36.5" cy="338.5" r="1.45"/>
<circle cx="40.2" cy="338.7" r="1.45"/>
<circle cx="44.6" cy="337.6" r="1.45"/>
<circle cx="38.4" cy="342.8" r="1.45"/>
<circle cx="40.8" cy="343.7" r="1.45"/>
<circle cx="38.4" cy="348.7" r="1.45"/>
<circle cx="38.4" cy="354.6" r="1.45"/>
<line x1="72.5" y1="381.5" x2="72.5" y2="384.3" stroke="#000" stroke-width="1.2"/>
<text x="72.5" y="393.5" font-size="9.7" text-anchor="middle" font-weight="normal" font-family='"Liberation Sans", sans-serif'>Het</text>
<rect x="70.8" y="323.3" width="2.9" height="2.9"/>
<rect x="72.6" y="328.4" width="2.9" height="2.9"/>
<rect x="68.6" y="331.0" width="2.9" height="2.9"/>
<rect x="66.7" y="337.3" width="2.9" height="2.9"/>
<rect x="69.7" y="336.2" width="2.9" height="2.9"/>
<rect x="72.8" y="336.2" width="2.9" height="2.9"/>
<rect x="70.8" y="341.0" width="2.9" height="2.9"/>
<rect x="75.0" y="341.3" width="2.9" height="2.9"/>
<rect x="68.6" y="347.6" width="2.9" height="2.9"/>
<rect x="72.6" y="351.3" width="2.9" height="2.9"/>
<rect x="70.8" y="360.5" width="2.9" height="2.9"/>
<line x1="106" y1="381.5" x2="106" y2="384.3" stroke="#000" stroke-width="1.2"/>
<text x="106" y="393.5" font-size="9.7" text-anchor="middle" font-weight="normal" font-family='"Liberation Sans", sans-serif'>KO</text>
<polygon points="106.0,316.4 104.5,319.2 107.5,319.2"/>
<polygon points="106.0,333.4 104.5,336.1 107.5,336.1"/>
<polygon points="97.9,338.0 96.3,340.7 99.4,340.7"/>
<polygon points="114.0,336.8 112.5,339.5 115.5,339.5"/>
<polygon points="101.9,339.4 100.3,342.2 103.4,342.2"/>
<polygon points="106.0,340.4 104.5,343.2 107.5,343.2"/>
<polygon points="110.0,339.4 108.5,342.2 111.5,342.2"/>
<polygon points="97.9,342.1 96.3,344.9 99.4,344.9"/>
<polygon points="101.9,342.2 100.3,345.0 103.4,345.0"/>
<polygon points="106.0,342.6 104.5,345.3 107.5,345.3"/>
<polygon points="110.0,342.2 108.5,345.0 111.5,345.0"/>
<polygon points="114.2,342.1 112.7,344.9 115.8,344.9"/>
<polygon points="97.9,346.1 96.3,348.9 99.4,348.9"/>
<polygon points="101.9,347.7 100.3,350.4 103.4,350.4"/>
<polygon points="106.0,345.5 104.5,348.3 107.5,348.3"/>
<polygon points="110.0,345.7 108.5,348.5 111.5,348.5"/>
<polygon points="114.0,345.5 112.5,348.3 115.5,348.3"/>
<polygon points="106.0,349.4 104.5,352.1 107.5,352.1"/>
<polygon points="112.1,350.6 110.5,353.3 113.6,353.3"/>
<polygon points="99.9,352.5 98.4,355.3 101.5,355.3"/>
<polygon points="103.9,354.6 102.4,357.3 105.5,357.3"/>
<polygon points="107.9,354.2 106.4,357.0 109.5,357.0"/>
<text x="203.1" y="308.4" font-size="12.3" text-anchor="middle" font-weight="normal" font-family='"Liberation Sans", sans-serif' style="stroke-width:0.3px">Monocytes</text>
<line x1="151.1" y1="312.5" x2="151.1" y2="382.2" stroke="#000" stroke-width="1.2"/>
<line x1="150.6" y1="381.7" x2="246.5" y2="381.7" stroke="#000" stroke-width="1.2"/>
<line x1="148.6" y1="313" x2="151.1" y2="313" stroke="#000" stroke-width="1.2"/>
<text x="148.2" y="314.8" font-size="5.2" text-anchor="end" font-weight="normal" font-family='"Liberation Sans", sans-serif' style="stroke-width:0.1px">1.5</text>
<line x1="148.6" y1="335.9" x2="151.1" y2="335.9" stroke="#000" stroke-width="1.2"/>
<text x="148.2" y="337.7" font-size="5.2" text-anchor="end" font-weight="normal" font-family='"Liberation Sans", sans-serif' style="stroke-width:0.1px">1.0</text>
<line x1="148.6" y1="358.8" x2="151.1" y2="358.8" stroke="#000" stroke-width="1.2"/>
<text x="148.2" y="360.6" font-size="5.2" text-anchor="end" font-weight="normal" font-family='"Liberation Sans", sans-serif' style="stroke-width:0.1px">0.5</text>
<line x1="148.6" y1="381.7" x2="151.1" y2="381.7" stroke="#000" stroke-width="1.2"/>
<text x="148.2" y="383.5" font-size="5.2" text-anchor="end" font-weight="normal" font-family='"Liberation Sans", sans-serif' style="stroke-width:0.1px">0.0</text>
<text x="136.4" y="346.8" font-size="10.3" text-anchor="middle" font-weight="normal" font-family='"Liberation Sans", sans-serif' transform="rotate(-90 136.4 346.8)" style="stroke-width:0.3px">K/µL</text>
<line x1="168.3" y1="381.7" x2="168.3" y2="384.5" stroke="#000" stroke-width="1.2"/>
<text x="168.3" y="394.2" font-size="9.7" text-anchor="middle" font-weight="normal" font-family='"Liberation Sans", sans-serif'>WT</text>
<circle cx="168.4" cy="325.7" r="1.45"/>
<circle cx="168.4" cy="344.1" r="1.45"/>
<circle cx="170.2" cy="350.9" r="1.45"/>
<circle cx="166.5" cy="352.7" r="1.45"/>
<circle cx="172.4" cy="354.6" r="1.45"/>
<circle cx="164.1" cy="357.5" r="1.45"/>
<circle cx="168.4" cy="358.4" r="1.45"/>
<circle cx="168.4" cy="366.2" r="1.45"/>
<line x1="202.5" y1="381.7" x2="202.5" y2="384.5" stroke="#000" stroke-width="1.2"/>
<text x="202.5" y="394.2" font-size="9.7" text-anchor="middle" font-weight="normal" font-family='"Liberation Sans", sans-serif'>Het</text>
<rect x="199.5" y="334.3" width="2.9" height="2.9"/>
<rect x="203.2" y="332.1" width="2.9" height="2.9"/>
<rect x="199.5" y="341.7" width="2.9" height="2.9"/>
<rect x="203.2" y="343.5" width="2.9" height="2.9"/>
<rect x="201.4" y="350.5" width="2.9" height="2.9"/>
<rect x="192.7" y="353.7" width="2.9" height="2.9"/>
<rect x="197.1" y="355.1" width="2.9" height="2.9"/>
<rect x="201.4" y="357.0" width="2.9" height="2.9"/>
<rect x="206.0" y="354.8" width="2.9" height="2.9"/>
<rect x="210.0" y="353.3" width="2.9" height="2.9"/>
<rect x="201.4" y="364.2" width="2.9" height="2.9"/>
<line x1="237" y1="381.7" x2="237" y2="384.5" stroke="#000" stroke-width="1.2"/>
<text x="237" y="394.2" font-size="9.7" text-anchor="middle" font-weight="normal" font-family='"Liberation Sans", sans-serif'>KO</text>
<polygon points="237.3,327.1 235.7,329.9 238.8,329.9"/>
<polygon points="235.1,339.4 233.6,342.2 236.7,342.2"/>
<polygon points="239.4,339.4 237.8,342.2 240.9,342.2"/>
<polygon points="233.0,343.3 231.5,346.0 234.6,346.0"/>
<polygon points="241.5,344.4 240.0,347.1 243.1,347.1"/>
<polygon points="237.3,346.1 235.7,348.8 238.8,348.8"/>
<polygon points="246.5,347.5 244.9,350.3 248.0,350.3"/>
<polygon points="228.1,349.2 226.5,352.0 229.6,352.0"/>
<polygon points="231.0,349.5 229.5,352.2 232.6,352.2"/>
<polygon points="234.0,349.2 232.5,352.0 235.6,352.0"/>
<polygon points="237.3,349.5 235.7,352.2 238.8,352.2"/>
<polygon points="240.5,349.2 239.0,352.0 242.1,352.0"/>
<polygon points="243.6,349.5 242.1,352.2 245.2,352.2"/>
<polygon points="246.7,349.5 245.2,352.2 248.3,352.2"/>
<polygon points="239.4,354.6 237.8,357.3 240.9,357.3"/>
<polygon points="235.1,357.1 233.6,359.9 236.7,359.9"/>
<polygon points="235.1,363.1 233.6,365.8 236.7,365.8"/>
<polygon points="239.1,364.5 237.6,367.2 240.7,367.2"/>
<polygon points="239.1,366.5 237.6,369.2 240.7,369.2"/>
<polygon points="235.1,369.9 233.6,372.6 236.7,372.6"/>
<text x="332.8" y="311" font-size="12.7" text-anchor="middle" font-weight="normal" font-family='"Liberation Sans", sans-serif' style="stroke-width:0.3px">RBC</text>
<line x1="280.2" y1="311.5" x2="280.2" y2="382.3" stroke="#000" stroke-width="1.2"/>
<line x1="279.7" y1="381.8" x2="376.5" y2="381.8" stroke="#000" stroke-width="1.2"/>
<line x1="277.7" y1="312" x2="280.2" y2="312" stroke="#000" stroke-width="1.2"/>
<text x="277.5" y="313.8" font-size="5.2" text-anchor="end" font-weight="normal" font-family='"Liberation Sans", sans-serif' style="stroke-width:0.1px">15</text>
<line x1="277.7" y1="335.3" x2="280.2" y2="335.3" stroke="#000" stroke-width="1.2"/>
<text x="277.5" y="337.1" font-size="5.2" text-anchor="end" font-weight="normal" font-family='"Liberation Sans", sans-serif' style="stroke-width:0.1px">10</text>
<line x1="277.7" y1="358.5" x2="280.2" y2="358.5" stroke="#000" stroke-width="1.2"/>
<text x="277.5" y="360.3" font-size="5.2" text-anchor="end" font-weight="normal" font-family='"Liberation Sans", sans-serif' style="stroke-width:0.1px">5</text>
<line x1="277.7" y1="381.8" x2="280.2" y2="381.8" stroke="#000" stroke-width="1.2"/>
<text x="277.5" y="383.6" font-size="5.2" text-anchor="end" font-weight="normal" font-family='"Liberation Sans", sans-serif' style="stroke-width:0.1px">0</text>
<text x="267.0" y="346.1" font-size="10.3" text-anchor="middle" font-weight="normal" font-family='"Liberation Sans", sans-serif' transform="rotate(-90 267.0 346.1)" style="stroke-width:0.3px">M/µL</text>
<line x1="298" y1="381.8" x2="298" y2="384.6" stroke="#000" stroke-width="1.2"/>
<text x="298" y="394.2" font-size="10.1" text-anchor="middle" font-weight="normal" font-family='"Liberation Sans", sans-serif'>WT</text>
<circle cx="301.6" cy="332.4" r="1.45"/>
<circle cx="293.6" cy="336.0" r="1.45"/>
<circle cx="297.2" cy="336.6" r="1.45"/>
<circle cx="290.0" cy="337.2" r="1.45"/>
<circle cx="300.4" cy="337.6" r="1.45"/>
<circle cx="304.8" cy="337.2" r="1.45"/>
<circle cx="297.6" cy="340.8" r="1.45"/>
<circle cx="302.0" cy="340.4" r="1.45"/>
<line x1="332.3" y1="381.8" x2="332.3" y2="384.6" stroke="#000" stroke-width="1.2"/>
<text x="332.3" y="394.2" font-size="10.1" text-anchor="middle" font-weight="normal" font-family='"Liberation Sans", sans-serif'>Het</text>
<rect x="328.9" y="332.6" width="2.9" height="2.9"/>
<rect x="333.4" y="331.8" width="2.9" height="2.9"/>
<rect x="322.2" y="336.6" width="2.9" height="2.9"/>
<rect x="324.8" y="337.4" width="2.9" height="2.9"/>
<rect x="327.4" y="337.9" width="2.9" height="2.9"/>
<rect x="330.2" y="337.9" width="2.9" height="2.9"/>
<rect x="332.9" y="337.6" width="2.9" height="2.9"/>
<rect x="335.8" y="337.2" width="2.9" height="2.9"/>
<rect x="338.6" y="336.6" width="2.9" height="2.9"/>
<rect x="340.9" y="335.8" width="2.9" height="2.9"/>
<rect x="333.4" y="340.6" width="2.9" height="2.9"/>
<rect x="328.9" y="343.4" width="2.9" height="2.9"/>
<line x1="367.5" y1="381.8" x2="367.5" y2="384.6" stroke="#000" stroke-width="1.2"/>
<text x="367.5" y="394.2" font-size="10.1" text-anchor="middle" font-weight="normal" font-family='"Liberation Sans", sans-serif'>KO</text>
<polygon points="363.6,330.8 362.1,333.5 365.2,333.5"/>
<polygon points="357.6,333.2 356.1,335.9 359.2,335.9"/>
<polygon points="360.6,333.8 359.1,336.5 362.2,336.5"/>
<polygon points="367.6,332.4 366.1,335.1 369.2,335.1"/>
<polygon points="372.0,332.0 370.4,334.7 373.6,334.7"/>
<polygon points="378.0,333.2 376.4,335.9 379.6,335.9"/>
<polygon points="375.0,334.4 373.4,337.1 376.6,337.1"/>
<polygon points="359.0,338.0 357.4,340.7 360.6,340.7"/>
<polygon points="362.8,337.8 361.2,340.5 364.4,340.5"/>
<polygon points="366.0,337.4 364.4,340.1 367.6,340.1"/>
<polygon points="369.2,337.8 367.6,340.5 370.8,340.5"/>
<polygon points="372.2,337.4 370.6,340.1 373.8,340.1"/>
<polygon points="375.6,337.0 374.1,339.7 377.2,339.7"/>
<polygon points="378.4,337.8 376.8,340.5 379.9,340.5"/>
<polygon points="366.0,342.0 364.4,344.7 367.6,344.7"/>
<polygon points="370.2,340.0 368.6,342.7 371.8,342.7"/>
<polygon points="367.6,348.4 366.1,351.1 369.2,351.1"/>
<polygon points="367.6,355.2 366.1,357.9 369.2,357.9"/>
<text x="467.3" y="308.4" font-size="12.4" text-anchor="middle" font-weight="normal" font-family='"Liberation Sans", sans-serif' style="stroke-width:0.3px">Platelets</text>
<line x1="416" y1="312.0" x2="416" y2="382.0" stroke="#000" stroke-width="1.2"/>
<line x1="415.5" y1="381.5" x2="514" y2="381.5" stroke="#000" stroke-width="1.2"/>
<line x1="413.5" y1="312.5" x2="416" y2="312.5" stroke="#000" stroke-width="1.2"/>
<text x="413.1" y="314.3" font-size="5.2" text-anchor="end" font-weight="normal" font-family='"Liberation Sans", sans-serif' style="stroke-width:0.1px">1000</text>
<line x1="413.5" y1="326.5" x2="416" y2="326.5" stroke="#000" stroke-width="1.2"/>
<text x="413.1" y="328.3" font-size="5.2" text-anchor="end" font-weight="normal" font-family='"Liberation Sans", sans-serif' style="stroke-width:0.1px">800</text>
<line x1="413.5" y1="340" x2="416" y2="340" stroke="#000" stroke-width="1.2"/>
<text x="413.1" y="341.8" font-size="5.2" text-anchor="end" font-weight="normal" font-family='"Liberation Sans", sans-serif' style="stroke-width:0.1px">600</text>
<line x1="413.5" y1="354" x2="416" y2="354" stroke="#000" stroke-width="1.2"/>
<text x="413.1" y="355.8" font-size="5.2" text-anchor="end" font-weight="normal" font-family='"Liberation Sans", sans-serif' style="stroke-width:0.1px">400</text>
<line x1="413.5" y1="367.5" x2="416" y2="367.5" stroke="#000" stroke-width="1.2"/>
<text x="413.1" y="369.3" font-size="5.2" text-anchor="end" font-weight="normal" font-family='"Liberation Sans", sans-serif' style="stroke-width:0.1px">200</text>
<line x1="413.5" y1="381.5" x2="416" y2="381.5" stroke="#000" stroke-width="1.2"/>
<text x="413.1" y="383.3" font-size="5.2" text-anchor="end" font-weight="normal" font-family='"Liberation Sans", sans-serif' style="stroke-width:0.1px">0</text>
<text x="397.6" y="346.3" font-size="10.3" text-anchor="middle" font-weight="normal" font-family='"Liberation Sans", sans-serif' transform="rotate(-90 397.6 346.3)" style="stroke-width:0.3px">K/µl</text>
<line x1="433" y1="381.5" x2="433" y2="384.3" stroke="#000" stroke-width="1.2"/>
<text x="433" y="393.7" font-size="9.7" text-anchor="middle" font-weight="normal" font-family='"Liberation Sans", sans-serif'>WT</text>
<circle cx="432.9" cy="318.3" r="1.45"/>
<circle cx="432.9" cy="326.2" r="1.45"/>
<circle cx="434.0" cy="339.6" r="1.45"/>
<circle cx="431.4" cy="341.5" r="1.45"/>
<circle cx="432.9" cy="352.5" r="1.45"/>
<circle cx="432.9" cy="359.3" r="1.45"/>
<circle cx="432.9" cy="364.9" r="1.45"/>
<circle cx="432.9" cy="369.8" r="1.45"/>
<line x1="467.3" y1="381.5" x2="467.3" y2="384.3" stroke="#000" stroke-width="1.2"/>
<text x="467.3" y="393.7" font-size="9.7" text-anchor="middle" font-weight="normal" font-family='"Liberation Sans", sans-serif'>Het</text>
<rect x="464.6" y="332.1" width="2.9" height="2.9"/>
<rect x="467.9" y="331.5" width="2.9" height="2.9"/>
<rect x="470.3" y="333.9" width="2.9" height="2.9"/>
<rect x="462.4" y="337.1" width="2.9" height="2.9"/>
<rect x="466.1" y="338.2" width="2.9" height="2.9"/>
<rect x="460.7" y="340.4" width="2.9" height="2.9"/>
<rect x="459.4" y="349.6" width="2.9" height="2.9"/>
<rect x="464.2" y="347.9" width="2.9" height="2.9"/>
<rect x="468.3" y="348.1" width="2.9" height="2.9"/>
<rect x="472.3" y="347.4" width="2.9" height="2.9"/>
<rect x="464.2" y="352.0" width="2.9" height="2.9"/>
<rect x="468.3" y="350.7" width="2.9" height="2.9"/>
<rect x="466.1" y="356.0" width="2.9" height="2.9"/>
<rect x="466.1" y="361.0" width="2.9" height="2.9"/>
<line x1="501.5" y1="381.5" x2="501.5" y2="384.3" stroke="#000" stroke-width="1.2"/>
<text x="501.5" y="393.7" font-size="9.7" text-anchor="middle" font-weight="normal" font-family='"Liberation Sans", sans-serif'>KO</text>
<polygon points="497.4,325.1 495.9,327.9 499.0,327.9"/>
<polygon points="501.7,326.5 500.1,329.3 503.2,329.3"/>
<polygon points="505.9,326.5 504.4,329.3 507.5,329.3"/>
<polygon points="499.6,332.6 498.0,335.4 501.1,335.4"/>
<polygon points="503.8,334.0 502.3,336.8 505.4,336.8"/>
<polygon points="499.6,337.6 498.0,340.3 501.1,340.3"/>
<polygon points="495.2,344.6 493.6,347.4 496.7,347.4"/>
<polygon points="499.1,345.5 497.6,348.2 500.7,348.2"/>
<polygon points="503.4,346.1 501.8,348.8 504.9,348.8"/>
<polygon points="507.9,346.1 506.4,348.8 509.5,348.8"/>
<polygon points="501.7,347.5 500.1,350.2 503.2,350.2"/>
<polygon points="497.4,351.4 495.9,354.2 499.0,354.2"/>
<polygon points="505.9,353.4 504.4,356.2 507.5,356.2"/>
<polygon points="501.7,354.5 500.1,357.3 503.2,357.3"/>
<polygon points="499.6,357.7 498.0,360.4 501.1,360.4"/>
<polygon points="503.8,360.5 502.3,363.2 505.4,363.2"/>
<polygon points="497.4,362.3 495.9,365.1 499.0,365.1"/>
<polygon points="505.9,363.3 504.4,366.1 507.5,366.1"/>
<polygon points="501.7,365.6 500.1,368.3 503.2,368.3"/>
</g>
<g><line x1="167.7" y1="247.5" x2="189.7" y2="247.5" stroke="#2a2a2a" stroke-width="1"/><line x1="173.39999999999998" y1="243.5" x2="184.0" y2="243.5" stroke="#2a2a2a" stroke-width="1"/><line x1="173.39999999999998" y1="251.5" x2="184.0" y2="251.5" stroke="#2a2a2a" stroke-width="1"/><line x1="178.5" y1="243.0" x2="178.5" y2="252.0" stroke="#2a2a2a" stroke-width="1"/><line x1="199.2" y1="254.5" x2="221.2" y2="254.5" stroke="#2a2a2a" stroke-width="1"/><line x1="204.89999999999998" y1="252.5" x2="215.5" y2="252.5" stroke="#2a2a2a" stroke-width="1"/><line x1="204.89999999999998" y1="256.5" x2="215.5" y2="256.5" stroke="#2a2a2a" stroke-width="1"/><line x1="210.5" y1="252.0" x2="210.5" y2="257.0" stroke="#2a2a2a" stroke-width="1"/><line x1="230" y1="259.5" x2="252" y2="259.5" stroke="#2a2a2a" stroke-width="1"/><line x1="235.7" y1="257.5" x2="246.3" y2="257.5" stroke="#2a2a2a" stroke-width="1"/><line x1="235.7" y1="261.5" x2="246.3" y2="261.5" stroke="#2a2a2a" stroke-width="1"/><line x1="241.5" y1="257.0" x2="241.5" y2="262.0" stroke="#2a2a2a" stroke-width="1"/><line x1="285" y1="246.5" x2="307" y2="246.5" stroke="#2a2a2a" stroke-width="1"/><line x1="290.7" y1="240.5" x2="301.3" y2="240.5" stroke="#2a2a2a" stroke-width="1"/><line x1="290.7" y1="251.5" x2="301.3" y2="251.5" stroke="#2a2a2a" stroke-width="1"/><line x1="296.5" y1="240.0" x2="296.5" y2="252.0" stroke="#2a2a2a" stroke-width="1"/><line x1="315" y1="254.5" x2="337" y2="254.5" stroke="#2a2a2a" stroke-width="1"/><line x1="320.7" y1="251.5" x2="331.3" y2="251.5" stroke="#2a2a2a" stroke-width="1"/><line x1="320.7" y1="257.5" x2="331.3" y2="257.5" stroke="#2a2a2a" stroke-width="1"/><line x1="326.5" y1="251.0" x2="326.5" y2="258.0" stroke="#2a2a2a" stroke-width="1"/><line x1="344.5" y1="256.5" x2="366.5" y2="256.5" stroke="#2a2a2a" stroke-width="1"/><line x1="350.2" y1="253.5" x2="360.8" y2="253.5" stroke="#2a2a2a" stroke-width="1"/><line x1="350.2" y1="259.5" x2="360.8" y2="259.5" stroke="#2a2a2a" stroke-width="1"/><line x1="355.5" y1="253.0" x2="355.5" y2="260.0" stroke="#2a2a2a" stroke-width="1"/><line x1="408.5" y1="243.5" x2="430.5" y2="243.5" stroke="#2a2a2a" stroke-width="1"/><line x1="414.2" y1="239.5" x2="424.8" y2="239.5" stroke="#2a2a2a" stroke-width="1"/><line x1="414.2" y1="247.5" x2="424.8" y2="247.5" stroke="#2a2a2a" stroke-width="1"/><line x1="419.5" y1="239.0" x2="419.5" y2="248.0" stroke="#2a2a2a" stroke-width="1"/><line x1="442" y1="250.5" x2="464" y2="250.5" stroke="#2a2a2a" stroke-width="1"/><line x1="447.7" y1="246.5" x2="458.3" y2="246.5" stroke="#2a2a2a" stroke-width="1"/><line x1="447.7" y1="255.5" x2="458.3" y2="255.5" stroke="#2a2a2a" stroke-width="1"/><line x1="453.5" y1="246.0" x2="453.5" y2="256.0" stroke="#2a2a2a" stroke-width="1"/><line x1="474.5" y1="254.5" x2="496.5" y2="254.5" stroke="#2a2a2a" stroke-width="1"/><line x1="480.2" y1="251.5" x2="490.8" y2="251.5" stroke="#2a2a2a" stroke-width="1"/><line x1="480.2" y1="257.5" x2="490.8" y2="257.5" stroke="#2a2a2a" stroke-width="1"/><line x1="485.5" y1="251.0" x2="485.5" y2="258.0" stroke="#2a2a2a" stroke-width="1"/><line x1="27.5" y1="341.5" x2="49.5" y2="341.5" stroke="#2a2a2a" stroke-width="1"/><line x1="33.2" y1="338.5" x2="43.8" y2="338.5" stroke="#2a2a2a" stroke-width="1"/><line x1="33.2" y1="344.5" x2="43.8" y2="344.5" stroke="#2a2a2a" stroke-width="1"/><line x1="38.5" y1="338.0" x2="38.5" y2="345.0" stroke="#2a2a2a" stroke-width="1"/><line x1="61.5" y1="341.5" x2="83.5" y2="341.5" stroke="#2a2a2a" stroke-width="1"/><line x1="67.2" y1="338.5" x2="77.8" y2="338.5" stroke="#2a2a2a" stroke-width="1"/><line x1="67.2" y1="344.5" x2="77.8" y2="344.5" stroke="#2a2a2a" stroke-width="1"/><line x1="72.5" y1="338.0" x2="72.5" y2="345.0" stroke="#2a2a2a" stroke-width="1"/><line x1="95" y1="344.5" x2="117" y2="344.5" stroke="#2a2a2a" stroke-width="1"/><line x1="100.7" y1="342.5" x2="111.3" y2="342.5" stroke="#2a2a2a" stroke-width="1"/><line x1="100.7" y1="346.5" x2="111.3" y2="346.5" stroke="#2a2a2a" stroke-width="1"/><line x1="106.5" y1="342.0" x2="106.5" y2="347.0" stroke="#2a2a2a" stroke-width="1"/><line x1="157.3" y1="351.5" x2="179.3" y2="351.5" stroke="#2a2a2a" stroke-width="1"/><line x1="163.0" y1="347.5" x2="173.60000000000002" y2="347.5" stroke="#2a2a2a" stroke-width="1"/><line x1="163.0" y1="355.5" x2="173.60000000000002" y2="355.5" stroke="#2a2a2a" stroke-width="1"/><line x1="168.5" y1="347.0" x2="168.5" y2="356.0" stroke="#2a2a2a" stroke-width="1"/><line x1="191.5" y1="350.5" x2="213.5" y2="350.5" stroke="#2a2a2a" stroke-width="1"/><line x1="197.2" y1="347.5" x2="207.8" y2="347.5" stroke="#2a2a2a" stroke-width="1"/><line x1="197.2" y1="353.5" x2="207.8" y2="353.5" stroke="#2a2a2a" stroke-width="1"/><line x1="202.5" y1="347.0" x2="202.5" y2="354.0" stroke="#2a2a2a" stroke-width="1"/><line x1="226" y1="352.5" x2="248" y2="352.5" stroke="#2a2a2a" stroke-width="1"/><line x1="231.7" y1="350.5" x2="242.3" y2="350.5" stroke="#2a2a2a" stroke-width="1"/><line x1="231.7" y1="354.5" x2="242.3" y2="354.5" stroke="#2a2a2a" stroke-width="1"/><line x1="237.5" y1="350.0" x2="237.5" y2="355.0" stroke="#2a2a2a" stroke-width="1"/><line x1="287" y1="337.5" x2="309" y2="337.5" stroke="#2a2a2a" stroke-width="1"/><line x1="292.7" y1="336.5" x2="303.3" y2="336.5" stroke="#2a2a2a" stroke-width="1"/><line x1="292.7" y1="337.5" x2="303.3" y2="337.5" stroke="#2a2a2a" stroke-width="1"/><line x1="298.5" y1="336.0" x2="298.5" y2="338.0" stroke="#2a2a2a" stroke-width="1"/><line x1="321.3" y1="338.5" x2="343.3" y2="338.5" stroke="#2a2a2a" stroke-width="1"/><line x1="327.0" y1="338.5" x2="337.6" y2="338.5" stroke="#2a2a2a" stroke-width="1"/><line x1="327.0" y1="338.5" x2="337.6" y2="338.5" stroke="#2a2a2a" stroke-width="1"/><line x1="332.5" y1="338.0" x2="332.5" y2="339.0" stroke="#2a2a2a" stroke-width="1"/><line x1="356.5" y1="339.5" x2="378.5" y2="339.5" stroke="#2a2a2a" stroke-width="1"/><line x1="362.2" y1="338.5" x2="372.8" y2="338.5" stroke="#2a2a2a" stroke-width="1"/><line x1="362.2" y1="339.5" x2="372.8" y2="339.5" stroke="#2a2a2a" stroke-width="1"/><line x1="367.5" y1="338.0" x2="367.5" y2="340.0" stroke="#2a2a2a" stroke-width="1"/><line x1="422" y1="346.5" x2="444" y2="346.5" stroke="#2a2a2a" stroke-width="1"/><line x1="427.7" y1="340.5" x2="438.3" y2="340.5" stroke="#2a2a2a" stroke-width="1"/><line x1="427.7" y1="353.5" x2="438.3" y2="353.5" stroke="#2a2a2a" stroke-width="1"/><line x1="433.5" y1="340.0" x2="433.5" y2="354.0" stroke="#2a2a2a" stroke-width="1"/><line x1="456.3" y1="346.5" x2="478.3" y2="346.5" stroke="#2a2a2a" stroke-width="1"/><line x1="462.0" y1="343.5" x2="472.6" y2="343.5" stroke="#2a2a2a" stroke-width="1"/><line x1="462.0" y1="348.5" x2="472.6" y2="348.5" stroke="#2a2a2a" stroke-width="1"/><line x1="467.5" y1="343.0" x2="467.5" y2="349.0" stroke="#2a2a2a" stroke-width="1"/><line x1="490.5" y1="347.5" x2="512.5" y2="347.5" stroke="#2a2a2a" stroke-width="1"/><line x1="496.2" y1="343.5" x2="506.8" y2="343.5" stroke="#2a2a2a" stroke-width="1"/><line x1="496.2" y1="350.5" x2="506.8" y2="350.5" stroke="#2a2a2a" stroke-width="1"/><line x1="501.5" y1="343.0" x2="501.5" y2="351.0" stroke="#2a2a2a" stroke-width="1"/></g>
</svg></body></html>
